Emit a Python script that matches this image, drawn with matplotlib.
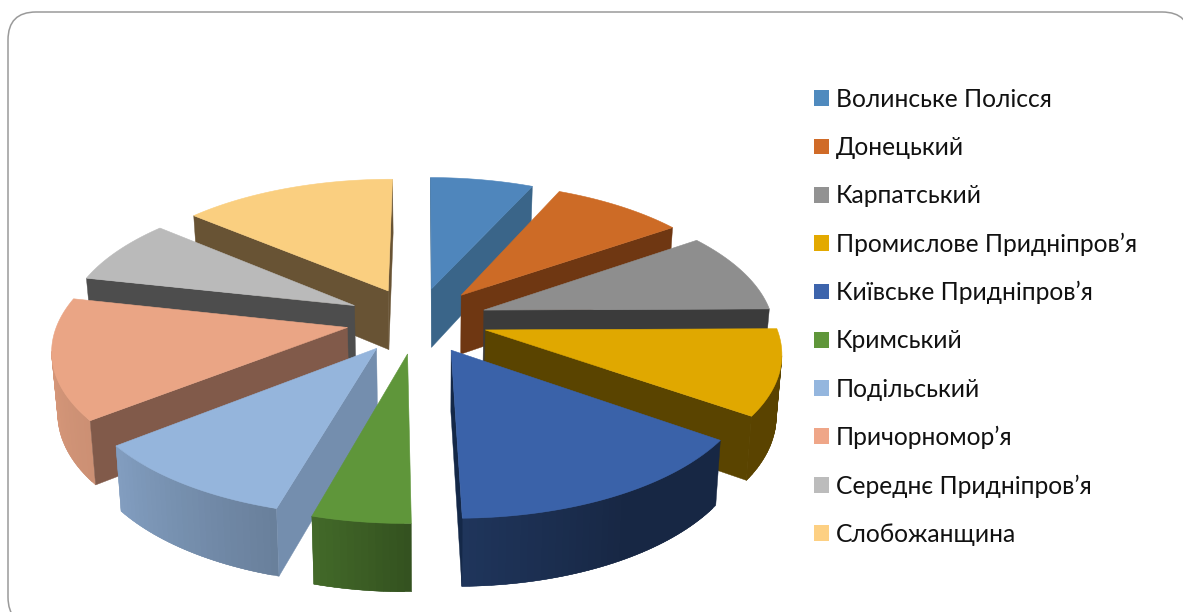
import numpy as np
import matplotlib
matplotlib.use("Agg")
import matplotlib.pyplot as plt
from matplotlib.patches import Polygon, Patch, FancyBboxPatch

categories = ["Волинське Полісся", "Донецький", "Карпатський", "Промислове Придніпров’я",
              "Київське Придніпров’я", "Кримський", "Подільський", "Причорномор’я",
              "Середнє Придніпров’я", "Слобожанщина"]
values = [6.7, 8.6, 9.5, 9.9, 15.0, 4.6, 10.0, 14.1, 7.7, 13.9]
top_colors = ["#4F86BC", "#CD6B26", "#8E8E8E", "#E0A800", "#3A62A9",
              "#5F963A", "#95B5DC", "#EAA585", "#BABABA", "#FACF80"]
cut_colors = ["#3A6589", "#6F3712", "#3B3B3B", "#5A4400", "#142848",
              "#3F6326", "#748EAE", "#815A4A", "#4D4D4D", "#685334"]
legend_colors = ["#4F8ABE", "#D06B28", "#929292", "#E3A900", "#3D64AC",
                 "#5F963A", "#94B6DE", "#EFA688", "#BCBCBC", "#FDD083"]

# projection of the tilted pie (screen pixels)
CX, CY, RX, RY, PERSP = 417.0, 320.0, 289.0, 135.0, 0.141
DEPTH, DEPTH_P, BOTTOM_SCALE, BOTTOM_X = 60.0, 0.098, 0.984, 432.0
EXPLODE = 0.245
START = 0.2


def project(X, Y, bottom=False):
    w = 1 + PERSP * Y
    u = CX + RX * X / w
    v = CY - RY * Y / w
    if bottom:
        v = v + DEPTH / (1 + DEPTH_P * Y)
        u = BOTTOM_X + (u - BOTTOM_X) * BOTTOM_SCALE
    return u, v


def shade(theta):
    return np.interp(theta % 360, [90, 125, 150, 179, 195, 231, 280, 360],
                     [.40, .40, .40, .54, .70, .87, .95, .95])


fig = plt.figure(figsize=(11.83, 6.12), dpi=100)
ax = fig.add_axes([0, 0, 1, 1])
ax.set_xlim(0, 1183)
ax.set_ylim(612, 0)
ax.axis("off")

ax.add_patch(FancyBboxPatch((8 + 28, 12 + 28), 1182 - 56, 613 - 56,
                            boxstyle="round,pad=28,rounding_size=28",
                            fc="white", ec="#9A9A9A", lw=1.1, zorder=0))

vals = np.array(values, dtype=float)
edges = START + np.concatenate([[0], np.cumsum(vals)]) / vals.sum() * 360
mids = (edges[:-1] + edges[1:]) / 2
order = np.argsort(-np.cos(np.radians(mids)))


def wall(chain, color, zo):
    tops = [project(*p) for p in chain]
    bots = [project(*p, True) for p in chain]
    ax.add_patch(Polygon(tops + bots[::-1], closed=True, fc=color, ec=color,
                         lw=0.3, zorder=zo))


for z, i in enumerate(order):
    t0, t1 = edges[i], edges[i + 1]
    m = np.radians(mids[i])
    ox, oy = EXPLODE * np.sin(m), EXPLODE * np.cos(m)
    ts = np.linspace(t0, t1, int(max(t1 - t0, 4) * 0.8) + 2)
    arc = [(ox + np.sin(np.radians(t)), oy + np.cos(np.radians(t))) for t in ts]
    apex = (ox, oy)
    rgb = np.array(matplotlib.colors.to_rgb(top_colors[i]))
    # outer wall strips; each one overlaps the next so that no seam shows
    n = len(arc)
    for k in range(n - 1):
        if project(*arc[k + 1])[0] < project(*arc[k])[0]:
            tm = (ts[k] + ts[k + 1]) / 2
            chain = arc[k:min(k + 3, n)]
            # do not let the overlap run onto a culled part of the arc
            if len(chain) == 3 and project(*chain[2])[0] >= project(*chain[1])[0]:
                chain = chain[:2]
            wall(chain, tuple(rgb * shade(tm)), 2 + z + k * 1e-3)
    # cut faces
    for p, q in ((apex, arc[0]), (arc[-1], apex)):
        if project(*q)[0] < project(*p)[0]:
            wall([p, q], cut_colors[i], 2 + z + 0.4)
    # top face
    pts = [project(*apex)] + [project(*a) for a in arc]
    ax.add_patch(Polygon(pts, closed=True, fc=top_colors[i], ec=top_colors[i],
                         lw=0.4, zorder=2 + z + 0.5))

handles = [Patch(fc=c, ec="none", label=n) for n, c in zip(categories, legend_colors)]
ax.legend(handles=handles, loc="upper left", bbox_to_anchor=(814.5, 88),
          bbox_transform=ax.transData, frameon=False, borderpad=0, borderaxespad=0,
          prop={"family": ["Lato", "Noto Sans", "DejaVu Sans"], "size": 17.7},
          handlelength=0.61, handleheight=0.61, handletextpad=0.245,
          labelspacing=1.023, labelcolor="#111111")

fig.savefig("out.png", dpi=100)
